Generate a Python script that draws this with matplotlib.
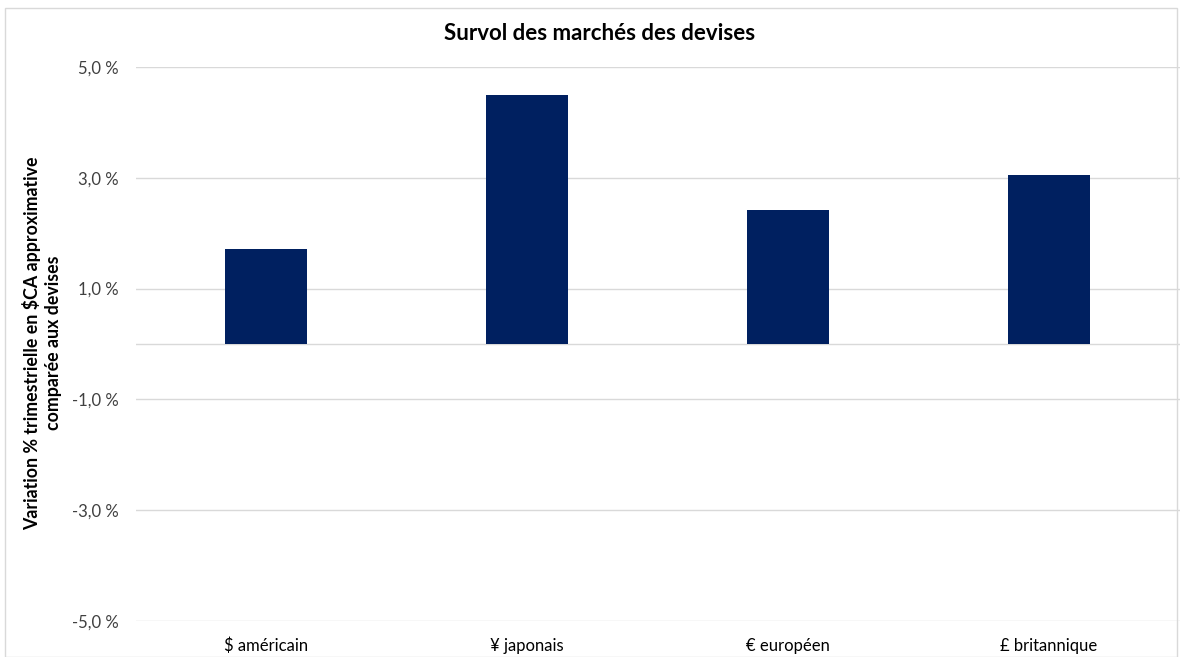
import matplotlib
matplotlib.use("Agg")
import matplotlib.pyplot as plt
from matplotlib.patches import Rectangle
from matplotlib.ticker import FixedLocator, FuncFormatter

categories = ["$ américain", "¥ japonais", "€ européen", "£ britannique"]
values = [1.71, 4.49, 2.41, 3.05]
yticks = [-5, -3, -1, 1, 3, 5]

plt.rcParams['font.family'] = ['Lato', 'DejaVu Sans']

fig = plt.figure(figsize=(11.82, 6.57), dpi=100)
ax = fig.add_axes([135.5/1182, 1-621/657, 1044/1182, (621-67)/657])

x = list(range(len(categories)))
ax.bar(x, values, width=0.315, color="#002060", zorder=3)
ax.set_xlim(-0.5, len(categories)-0.5)
ax.set_ylim(-5, 5)
ax.yaxis.set_major_locator(FixedLocator(yticks))
ax.yaxis.set_major_formatter(FuncFormatter(lambda v, p: f"{v:.1f} %".replace(".", ",")))
ax.grid(axis='y', color="#d9d9d9", linewidth=1.0, zorder=0)
ax.axhline(0, color="#d9d9d9", linewidth=1.0, zorder=1)
for s in ax.spines.values():
    s.set_visible(False)
ax.tick_params(axis='y', length=0, pad=12, labelsize=12, labelcolor="#404040")
ax.tick_params(axis='x', length=0, pad=12, labelsize=12, labelcolor="#000000")
ax.set_xticks(x)
ax.set_xticklabels(categories)

fig.text(600/1182, 1-33/657, "Survol des marchés des devises", ha='center', va='center',
         fontsize=16, fontweight='bold')
fig.text(42/1182, 1-343/657, "Variation % trimestrielle en $CA approximative\ncomparée aux devises",
         ha='center', va='center', rotation=90, fontsize=12.8, fontweight='bold', linespacing=1.3)

fig.patches.append(Rectangle((5/1182, 0), 1-10/1182, 1-8/657, transform=fig.transFigure,
                             fill=False, edgecolor="#d9d9d9", linewidth=1.0))

fig.savefig("out.png", dpi=100)
